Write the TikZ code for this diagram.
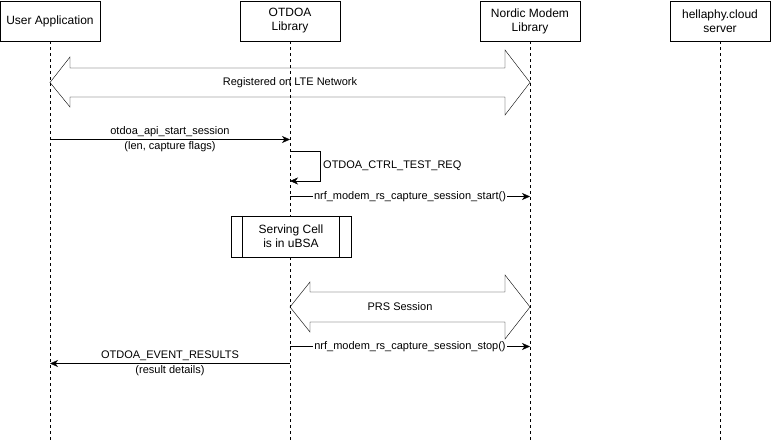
\documentclass[tikz,border=0pt]{standalone}
\usepackage{fontspec}
\setmainfont{Liberation Sans}
\usepackage{tikz}
\usetikzlibrary{arrows.meta, positioning}

\begin{document}
\begin{tikzpicture}[x=1pt, y=-1pt,
        actor/.style={draw, minimum width=100pt, minimum height=40pt, align=center, font=\fontsize{12}{14}\selectfont},
        lifeline/.style={dash pattern=on 3pt off 3pt},
        msg/.style={-{Stealth[length=8pt,width=7pt,inset=2.5pt]}},
        lbl/.style={align=center, font=\fontsize{11}{15}\selectfont, inner sep=1pt},
        fatarrow/.style={draw, line join=miter}]
        \useasboundingbox (0,0) rectangle (771,443);

        % participants
        \node[actor] (app) at (50,21) {User Application};
        \node[actor] (otdoa) at (290,21) {OTDOA\\Library};
        \node[actor] (modem) at (530,21) {Nordic Modem\\Library};
        \node[actor] (cloud) at (720,21) {hellaphy.cloud\\server};

        \foreach \p in {app, otdoa, modem, cloud} {
            \coordinate (\p-end) at (\p.south |- 0,443);
            \draw[lifeline] (\p.south) -- (\p-end);
        }

        % registered on LTE network
        \draw[fatarrow] (50,82.5) -- (70,57) -- (70,68) -- (505,68) -- (505,50) -- (530,82.5)
            -- (505,115) -- (505,97) -- (70,97) -- (70,107) -- cycle;
        \node[lbl] (lte) at (290,82.5) {Registered on LTE Network};

        % start session
        \coordinate (app-start) at (app.south |- 0,139.5);
        \coordinate (otdoa-start) at (otdoa.south |- 0,139.5);
        \draw[msg] (app-start) -- (otdoa-start) node[midway, lbl] (startlbl) {otdoa\_api\_start\_session\\(len, capture flags)};

        % self message
        \coordinate (otdoa-req1) at (otdoa.south |- 0,151);
        \coordinate (otdoa-req2) at (otdoa.south |- 0,181);
        \draw[msg] (otdoa-req1) -- ++(30,0) |- (otdoa-req2);
        \node[lbl, anchor=west] (reqlbl) at (322,166) {OTDOA\_CTRL\_TEST\_REQ};

        % capture start
        \coordinate (otdoa-cap1) at (otdoa.south |- 0,196.5);
        \coordinate (modem-cap1) at (modem.south |- 0,196.5);
        \draw[msg] (otdoa-cap1) -- (modem-cap1) node[midway, lbl, fill=white] (caplbl1) {nrf\_modem\_rs\_capture\_session\_start()};

        % serving cell
        \node[draw, fill=white, minimum width=120pt, minimum height=41pt, align=center, font=\fontsize{12}{14}\selectfont] (cell) at (291,236.5) {Serving Cell\\is in uBSA};
        \draw ([xshift=11pt]cell.north west) -- ([xshift=11pt]cell.south west);
        \draw ([xshift=-12pt]cell.north east) -- ([xshift=-12pt]cell.south east);

        % PRS session
        \draw[fatarrow] (290,307) -- (310,282) -- (310,292) -- (505,292) -- (505,275) -- (530,307)
            -- (505,339) -- (505,322) -- (310,322) -- (310,332) -- cycle;
        \node[lbl] (prs) at (400,307) {PRS Session};

        % capture stop
        \coordinate (otdoa-cap2) at (otdoa.south |- 0,346.5);
        \coordinate (modem-cap2) at (modem.south |- 0,346.5);
        \draw[msg] (otdoa-cap2) -- (modem-cap2) node[midway, lbl, fill=white] (caplbl2) {nrf\_modem\_rs\_capture\_session\_stop()};

        % results
        \coordinate (otdoa-res) at (otdoa.south |- 0,363.5);
        \coordinate (app-res) at (app.south |- 0,363.5);
        \draw[msg] (otdoa-res) -- (app-res) node[midway, lbl] (reslbl) {OTDOA\_EVENT\_RESULTS\\(result details)};
    \end{tikzpicture}
\end{document}
